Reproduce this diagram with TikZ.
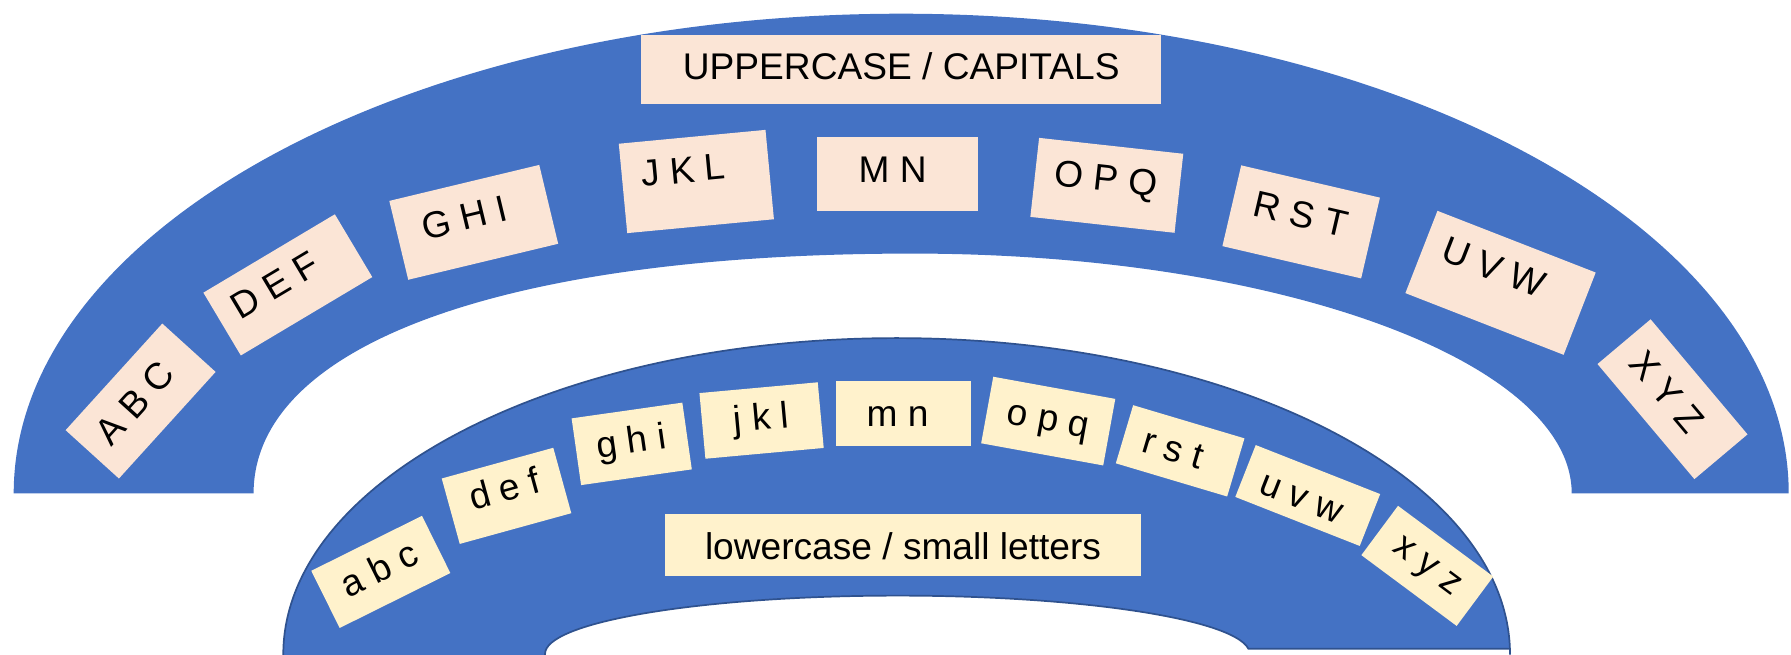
\documentclass[tikz,border=0pt]{standalone}
\usepackage{fontspec}
\setmainfont{Liberation Sans}
\definecolor{bandblue}{HTML}{4472C4}
\definecolor{bandline}{HTML}{2F528F}
\definecolor{peach}{HTML}{FBE5D6}
\definecolor{cream}{HTML}{FFF2CC}
\newcommand\tx[3]{\raisebox{#2pt}{\kern#1pt\relax #3}}
\tikzset{
  boxbase/.style={inner sep=0pt, font=\fontsize{32.5}{39}\selectfont,
    text height=23.4pt, text depth=6.8pt},
  ubox/.style={boxbase, fill=peach},
  lbox/.style={boxbase, fill=cream},
}
\begin{document}
\begin{tikzpicture}[x=1pt,y=-1pt]
\useasboundingbox (0,0) rectangle (1568,573);
% upper band
\fill[bandblue] (12,432) arc[start angle=180, end angle=360, x radius=777, y radius=420]
  -- (1376,432) arc[start angle=0, end angle=-90, x radius=577, y radius=210]
  .. controls (441,222) and (222,302) .. (222,432) -- cycle;
% lower band
\filldraw[fill=bandblue, draw=bandline, line width=1.5pt]
  (248,590) -- (248,573) arc[start angle=180, end angle=360, x radius=537, y radius=277]
  -- (1322,568) -- (1093,568) arc[start angle=-5, end angle=-180, x radius=308.5, y radius=51]
  -- (477,590) -- cycle;
% labels
\node[ubox, minimum width=455pt, minimum height=60.7pt] (UP) at (789,61) {UPPERCASE / CAPITALS};
\node[lbox, minimum width=416.4pt, minimum height=53.7pt] (LO) at (790.6,477.2) {\tx{0}{-4}{lowercase / small letters}};
% upper boxes
\node[ubox, minimum width=126pt, minimum height=63pt, rotate=47.8] (ABC) at (123.1,351.1) {\tx{-9}{0}{A B C}};
\node[ubox, minimum width=134pt, minimum height=64pt, rotate=30.8] (DEF) at (252,249.4) {\tx{-20}{3}{D E F}};
\node[ubox, minimum width=135pt, minimum height=71pt, rotate=13.5] (GHI) at (414.75,194.65) {\tx{-13}{3}{G H I}};
\node[ubox, minimum width=129pt, minimum height=78.6pt, rotate=5.4] (JKL) at (609.65,158.9) {\tx{-21}{8}{J K L}};
\node[ubox, minimum width=141pt, minimum height=64.5pt] (MN) at (785.8,152.25) {\tx{-8.6}{1}{M N}};
\node[ubox, minimum width=127pt, minimum height=69.6pt, rotate=-6.3] (OPQ) at (969,162.25) {\tx{-2.5}{3}{O P Q}};
\node[ubox, minimum width=124.7pt, minimum height=72.6pt, rotate=-13.1] (RST) at (1139.15,194.25) {\tx{-3.6}{3.8}{R S T}};
\node[ubox, minimum width=148.7pt, minimum height=77.3pt, rotate=-21.3] (UVW) at (1313.7,247.6) {\tx{-21}{7.7}{U V W}};
\node[ubox, minimum width=131.7pt, minimum height=60.8pt, rotate=-49.9] (XYZ) at (1464.25,349.5) {\tx{-16}{-2.6}{X Y Z}};
% lower boxes
\node[lbox, minimum width=108.2pt, minimum height=55.9pt, rotate=26.4] (abc) at (333.4,500.7) {a b c};
\node[lbox, minimum width=101.3pt, minimum height=59.4pt, rotate=15.4] (def) at (443.45,434.1) {\tx{0}{3.7}{d e f}};
\node[lbox, minimum width=97.9pt, minimum height=59pt, rotate=8.1] (ghi) at (553.05,388.6) {g h i};
\node[lbox, minimum width=104pt, minimum height=57.7pt, rotate=5.2] (jkl) at (666.75,368.15) {j k l};
\node[lbox, minimum width=118.4pt, minimum height=56.6pt] (mn) at (791.3,361.9) {\tx{-11}{-3}{m n}};
\node[lbox, minimum width=108.6pt, minimum height=59.2pt, rotate=-10.3] (opq) at (917.7,368.65) {o p q};
\node[lbox, minimum width=101.7pt, minimum height=53.1pt, rotate=-16.6] (rst) at (1033.2,394.7) {\tx{-12.6}{-2.7}{r s t}};
\node[lbox, minimum width=117.1pt, minimum height=48.8pt, rotate=-21.5] (uvw) at (1144.9,433.8) {\tx{-8.8}{-5.2}{u v w}};
\node[lbox, minimum width=103.9pt, minimum height=53.8pt, rotate=-36.6] (xyz) at (1249.6,495.4) {x y z};
\end{tikzpicture}
\end{document}
